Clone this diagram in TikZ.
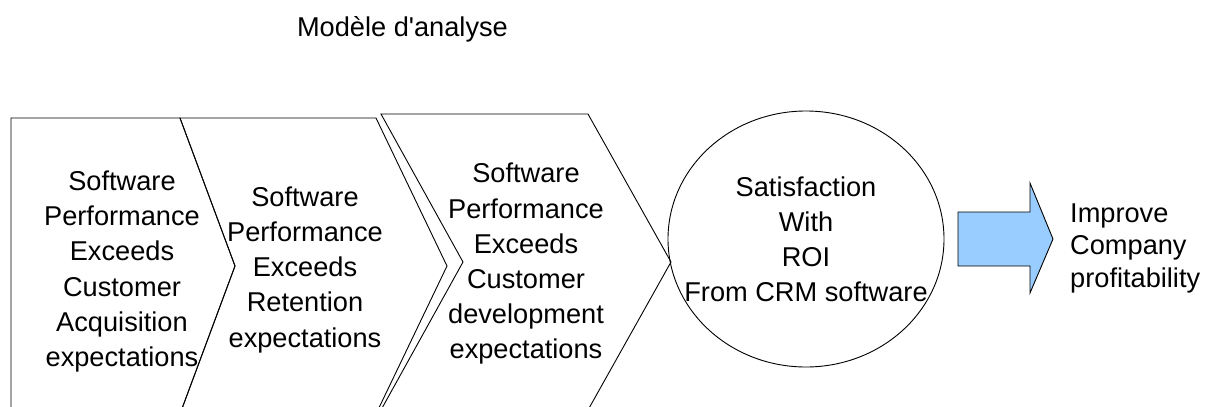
\documentclass[tikz,border=0pt]{standalone}
\usepackage{fontspec}
\setmainfont{Liberation Sans}
\newfontfamily\plainarial{Liberation Sans}
\usetikzlibrary{shapes.geometric}
\definecolor{arrowblue}{HTML}{99CCFF}
\begin{document}
\begin{tikzpicture}[x=1pt,y=-1pt,
  chev/.style={draw=black, line width=0.9pt, line join=miter},
  lbl/.style={align=center, inner sep=0pt, font=\fontsize{27.2}{35.2}\selectfont, anchor=north},
]
\useasboundingbox (0,0) rectangle (1211,407);
\clip (0,0) rectangle (1211,407);
% title
\node[inner sep=0pt, anchor=base, font=\plainarial\fontsize{27.2}{35}\selectfont] (title) at (402.5,36) {Modèle d'analyse};
% chevrons
\draw[chev] (11,118) -- (180,118) -- (235,266) -- (180,414) -- (11,414) -- cycle;
\draw[chev] (180,118) -- (376,118) -- (447,266) -- (376,414) -- (180,414) -- (235,266) -- cycle;
\draw[chev] (381,114) -- (588,114) -- (671,262) -- (588,410) -- (381,410) -- (463,262) -- cycle;
\node[lbl] (s1) at (122,170.7) {Software\\Performance\\Exceeds\\Customer\\Acquisition\\expectations};
\node[lbl] (s2) at (305,186.4) {Software\\Performance\\Exceeds\\Retention\\expectations};
\node[lbl] (s3) at (526,163) {Software\\Performance\\Exceeds\\Customer\\development\\expectations};
% ellipse
\node[ellipse, draw=black, line width=0.9pt, minimum width=276pt, minimum height=256pt, inner sep=0pt] (roi) at (806,239) {};
\node[lbl] (roitext) at (806,176.4) {Satisfaction\\With\\ROI\\From CRM software};
% block arrow
\draw[draw=black, line width=0.9pt, fill=arrowblue, line join=miter]
  (958,212) -- (1030,212) -- (1030,183) -- (1053,239) -- (1030,293) -- (1030,266) -- (958,266) -- cycle;
\node[align=left, inner sep=0pt, anchor=north west, font=\fontsize{27.2}{32.7}\selectfont] (improve) at (1070,203.3) {Improve\\Company\\profitability};
\end{tikzpicture}
\end{document}
